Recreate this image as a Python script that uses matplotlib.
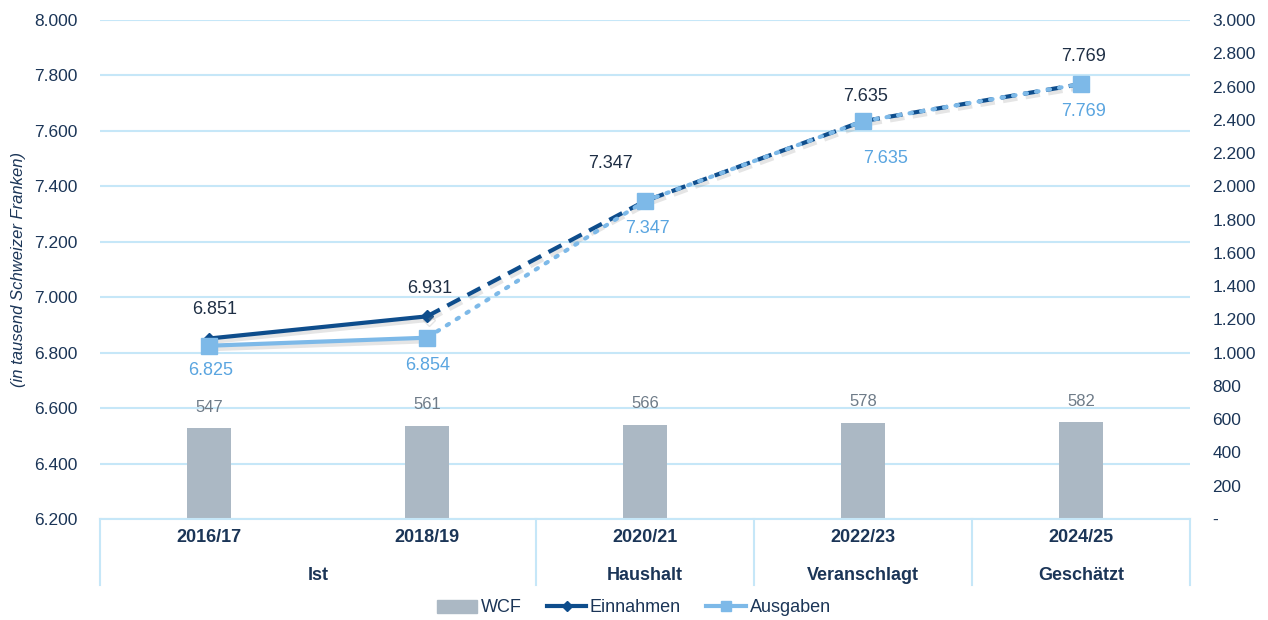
import matplotlib
matplotlib.use('Agg')
import matplotlib.pyplot as plt
import matplotlib.patheffects as pe
import matplotlib.transforms as mtransforms
from matplotlib.lines import Line2D
from matplotlib.patches import Patch
from matplotlib.ticker import FuncFormatter, MultipleLocator

plt.rcParams['font.family'] = ['Liberation Sans', 'DejaVu Sans']

# data
years = ['2016/17', '2018/19', '2020/21', '2022/23', '2024/25']
groups = ['Ist', 'Haushalt', 'Veranschlagt', 'Geschätzt']
group_sizes = [2, 1, 1, 1]
wcf = [547, 561, 566, 578, 582]
einnahmen = [6851, 6931, 7347, 7635, 7769]
ausgaben = [6825, 6854, 7347, 7635, 7769]

NAVY = '#1b3557'
DARK = '#0e4d8c'
LIGHT = '#7db9e8'
LIGHT_TXT = '#5aa5e0'
BAR = '#abb8c4'
GRID = '#c6e7f8'


def fmt(v):
    if abs(v) < 1e-9:
        return '-'
    return f'{v:,.0f}'.replace(',', '.')


def main():
    fig = plt.figure(figsize=(12.68, 6.2), dpi=100)
    ax2 = fig.add_axes([100 / 1268, 101 / 620, 1090 / 1268, 499 / 620])
    ax = ax2.twinx()
    ax.yaxis.tick_left()
    ax2.yaxis.tick_right()
    ax.set_zorder(ax2.get_zorder() + 1)
    ax.patch.set_visible(False)

    x = list(range(len(years)))
    lo, hi = 6200, 8000
    rmax = 3000

    # left axis (lines)
    ax.set_xlim(-0.5, 4.5)
    ax.set_ylim(lo, hi)
    ax.yaxis.set_major_locator(MultipleLocator(200))
    ax.yaxis.set_major_formatter(FuncFormatter(lambda v, p: fmt(v)))
    ax.tick_params(axis='y', length=0, pad=16, labelsize=12.5,
                   labelcolor=NAVY)
    ax.tick_params(axis='x', length=0, labelbottom=False)
    ax.set_ylabel('(in tausend Schweizer Franken)', fontstyle='italic',
                  fontsize=12, color=NAVY, labelpad=6)
    ax.yaxis.set_label_position('left')

    # right axis (bars)
    ax2.set_xlim(-0.5, 4.5)
    ax2.set_ylim(0, rmax)
    ax2.yaxis.set_major_locator(MultipleLocator(200))
    ax2.yaxis.set_major_formatter(FuncFormatter(lambda v, p: fmt(v)))
    ax2.tick_params(axis='y', length=0, pad=16, labelsize=12.5,
                    labelcolor=NAVY)
    ax2.tick_params(axis='x', length=0, labelbottom=False)
    for t in ax2.get_yticklabels():
        t.set_horizontalalignment('left')

    for a in (ax, ax2):
        for s in a.spines.values():
            s.set_visible(False)

    # gridlines from left axis, drawn behind the bars
    for v in range(lo, hi + 1, 200):
        ax2.axhline((v - lo) / (hi - lo) * rmax, color=GRID, lw=1.5,
                    zorder=0)

    ax2.bar(x, wcf, width=0.2, color=BAR, zorder=2)
    for xi, v in zip(x, wcf):
        ax2.annotate(fmt(v), (xi, v), xytext=(0, 21),
                     textcoords='offset pixels', ha='center', va='center',
                     fontsize=12, color='#6e7b88')

    shadow = [pe.SimpleLineShadow(offset=(1.5, -2.5), shadow_color='#8a8a8a',
                                  alpha=0.22), pe.Normal()]

    # Einnahmen
    ax.plot(x[:2], einnahmen[:2], color=DARK, lw=3, marker='D', ms=6,
            path_effects=shadow, zorder=3, solid_capstyle='round')
    ax.plot(x[1:], einnahmen[1:], color=DARK, lw=3, ls=(0, (3.5, 2)),
            path_effects=shadow, zorder=3)
    # Ausgaben
    ax.plot(x[:2], ausgaben[:2], color=LIGHT, lw=3, path_effects=shadow,
            zorder=4)
    ax.plot(x[1:], ausgaben[1:], color=LIGHT, lw=3, ls=(0, (0.6, 2.2)),
            dash_capstyle='round', zorder=4)
    ax.plot(x, ausgaben, ls='none', marker='s', ms=11, color=LIGHT,
            zorder=5)

    ein_off = [(6, 29), (3, 28), (-35, 38), (3, 25), (3, 28)]
    aus_off = [(2, -25), (1, -28), (2, -27), (23, -37), (3, -27)]
    for xi, v, o in zip(x, einnahmen, ein_off):
        ax.annotate(fmt(v), (xi, v), xytext=o, textcoords='offset pixels',
                    ha='center', va='center', fontsize=13, color='#1f2f45')
    for xi, v, o in zip(x, ausgaben, aus_off):
        ax.annotate(fmt(v), (xi, v), xytext=o, textcoords='offset pixels',
                    ha='center', va='center', fontsize=13, color=LIGHT_TXT)

    # category table below the plot
    tr = mtransforms.blended_transform_factory(ax.transData, ax.transAxes)
    bottom = -66 / 499
    ax.plot([-0.5, 4.5], [0, 0], color=GRID, lw=1.5, transform=tr,
            clip_on=False)
    edges = [-0.5]
    for n in group_sizes:
        edges.append(edges[-1] + n)
    for e in edges:
        ax.plot([e, e], [0, bottom], color=GRID, lw=1.5, transform=tr,
                clip_on=False)
    for xi, yl in zip(x, years):
        ax.text(xi, -19 / 499, yl, transform=tr, ha='center', va='center',
                fontsize=13, fontweight='bold', color=NAVY)
    for i, g in enumerate(groups):
        c = (edges[i] + edges[i + 1]) / 2
        ax.text(c, -56 / 499, g, transform=tr, ha='center', va='center',
                fontsize=13, fontweight='bold', color=NAVY)

    handles = [
        Patch(color=BAR),
        Line2D([], [], color=DARK, lw=3, marker='D', ms=5),
        Line2D([], [], color=LIGHT, lw=3, marker='s', ms=7),
    ]
    fig.legend(handles, ['WCF', 'Einnahmen', 'Ausgaben'], loc='center',
               bbox_to_anchor=(0.5, 12 / 620), ncol=3, frameon=False,
               fontsize=13, handlelength=2.2, handletextpad=0.2,
               columnspacing=1.4, labelcolor=NAVY)

    fig.savefig('out.png', dpi=100)


if __name__ == '__main__':
    main()
